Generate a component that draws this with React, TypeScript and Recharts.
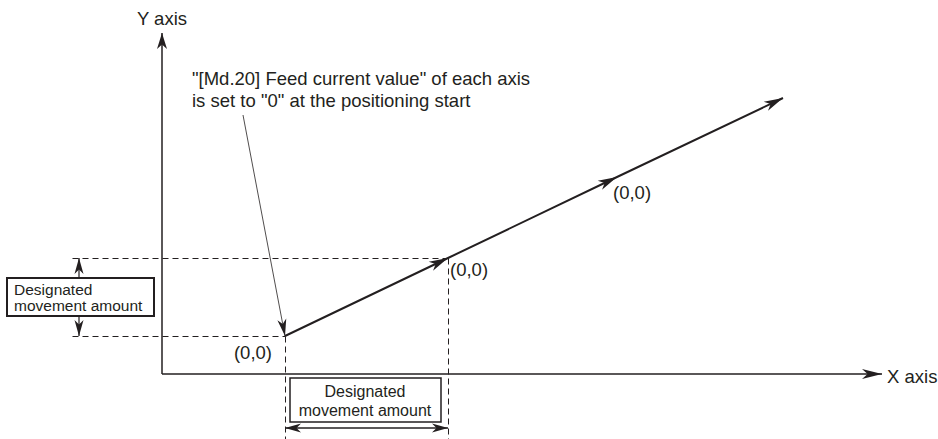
import React from "react";
import {
  ComposedChart,
  XAxis,
  YAxis,
  Line,
  ReferenceLine,
  ReferenceDot,
  ReferenceArea,
} from "recharts";

// Diagram coordinates: origin at the axes' intersection
const xDomain: [number, number] = [-162, 776];
const yDomain: [number, number] = [-65, 374];

const axisOrigin = { x: 0, y: 0 };
const xAxisEnd = { x: 720, y: 0 };
const yAxisEnd = { x: 0, y: 341 };

// movement path: start point, end of first movement, later positions
const pathPoints = [
  { x: 123, y: 38 },
  { x: 286, y: 116 },
  { x: 455, y: 197 },
  { x: 621, y: 276 },
];

// dashed guide lines
const dashedLines = [
  { from: { x: -90, y: 116 }, to: { x: 286, y: 116 } },
  { from: { x: -90, y: 38 }, to: { x: 123, y: 38 } },
  { from: { x: 123, y: 38 }, to: { x: 123, y: -65 } },
  { from: { x: 286, y: 116 }, to: { x: 286, y: -65 } },
];

// leader line of the annotation
const leader = { from: { x: 81, y: 259 }, to: { x: 123, y: 38 } };

// dimension arrows
const dimVerticalTop = { from: { x: -83, y: 96 }, to: { x: -83, y: 116 } };
const dimVerticalBottom = { from: { x: -83, y: 58 }, to: { x: -83, y: 38 } };
const dimHorizontal = { from: { x: 123, y: -54 }, to: { x: 286, y: -54 } };

// boxes
const leftBox = { x1: -155, x2: -8, y1: 58, y2: 96 };
const bottomBox = { x1: 128, x2: 279, y1: -48, y2: -4 };

const annotationLines = [
  '"[Md.20] Feed current value" of each axis',
  'is set to "0" at the positioning start',
];
const boxLines = ["Designated", "movement amount"];

const texts = [
  { x: 0, y: 356, text: "Y axis", anchor: "middle", size: 18.5 },
  { x: 725, y: -2, text: "X axis", anchor: "start", size: 18.5 },
  { x: 30, y: 296, text: annotationLines[0], anchor: "start", size: 18.5 },
  { x: 30, y: 274, text: annotationLines[1], anchor: "start", size: 18.5 },
  { x: 110, y: 22, text: "(0,0)", anchor: "end", size: 18.5 },
  { x: 288, y: 105, text: "(0,0)", anchor: "start", size: 18.5 },
  { x: 451, y: 182, text: "(0,0)", anchor: "start", size: 18.5 },
  { x: -148, y: 85, text: boxLines[0], anchor: "start", size: 15.5 },
  { x: -148, y: 69, text: boxLines[1], anchor: "start", size: 15.5 },
  { x: 203, y: -17, text: boxLines[0], anchor: "middle", size: 16 },
  { x: 203, y: -36, text: boxLines[1], anchor: "middle", size: 16 },
];

const INK = "#231f20";
const FONT = "'Liberation Sans', Arial, sans-serif";

function headPoints(x1: number, y1: number, x2: number, y2: number, len: number, half: number) {
  const dx = x2 - x1;
  const dy = y2 - y1;
  const n = Math.sqrt(dx * dx + dy * dy) || 1;
  const ux = dx / n;
  const uy = dy / n;
  const px = -uy;
  const py = ux;
  const bx = x2 - ux * len;
  const by = y2 - uy * len;
  const nx = x2 - ux * len * 0.72;
  const ny = y2 - uy * len * 0.72;
  return `${x2},${y2} ${bx + px * half},${by + py * half} ${nx},${ny} ${bx - px * half},${by - py * half}`;
}

type ArrowOpts = {
  width?: number;
  dash?: string;
  start?: boolean;
  end?: boolean;
  headOnly?: boolean;
  crisp?: boolean;
  len?: number;
  half?: number;
};

function makeArrow(opts: ArrowOpts) {
  const { width = 1, dash, start = false, end = false, headOnly = false, crisp = false, len = 16, half = 4.5 } = opts;
  return (props: any) => {
    let { x1, y1, x2, y2 } = props;
    if (crisp) {
      x1 = Math.round(x1) + 0.5;
      x2 = Math.round(x2) + 0.5;
      y1 = Math.round(y1) + 0.5;
      y2 = Math.round(y2) + 0.5;
    }
    return (
      <g>
        {!headOnly && (
          <line x1={x1} y1={y1} x2={x2} y2={y2} stroke={INK} strokeWidth={width} strokeDasharray={dash} />
        )}
        {end && <polygon points={headPoints(x1, y1, x2, y2, len, half)} fill={INK} />}
        {start && <polygon points={headPoints(x2, y2, x1, y1, len, half)} fill={INK} />}
      </g>
    );
  };
}

const textShape = (t: { text: string; anchor: string; size: number }) => (props: any) => (
  <text
    x={props.cx}
    y={props.cy}
    textAnchor={t.anchor as any}
    dominantBaseline="central"
    fontFamily={FONT}
    fontSize={t.size}
    fill={INK}
  >
    {t.text}
  </text>
);

export default function App() {
  return (
    <div style={{ position: "absolute", left: 0, top: 0, background: "#fff" }}>
      <ComposedChart width={938} height={439} margin={{ top: 0, right: 0, bottom: 0, left: 0 }}>
        <XAxis type="number" dataKey="x" domain={xDomain} allowDataOverflow hide />
        <YAxis type="number" dataKey="y" domain={yDomain} allowDataOverflow hide width={0} />

        {dashedLines.map((d, i) => (
          <ReferenceLine
            key={`d${i}`}
            segment={[d.from, d.to]}
            ifOverflow="visible"
            shape={makeArrow({ width: 1, dash: "6 4", crisp: true })}
          />
        ))}

        <ReferenceLine
          segment={[axisOrigin, xAxisEnd]}
          ifOverflow="visible"
          shape={makeArrow({ width: 1.5, end: true, len: 20, half: 5 })}
        />
        <ReferenceLine
          segment={[axisOrigin, yAxisEnd]}
          ifOverflow="visible"
          shape={makeArrow({ width: 1.5, end: true, len: 16, half: 5 })}
        />

        <Line
          data={pathPoints}
          dataKey="y"
          type="linear"
          stroke={INK}
          strokeWidth={2}
          dot={false}
          activeDot={false}
          isAnimationActive={false}
        />
        {pathPoints.slice(1).map((p, i) => (
          <ReferenceLine
            key={`h${i}`}
            segment={[pathPoints[0], p]}
            ifOverflow="visible"
            shape={makeArrow({ end: true, headOnly: true, len: 19, half: 5 })}
          />
        ))}

        <ReferenceLine
          segment={[leader.from, leader.to]}
          ifOverflow="visible"
          shape={makeArrow({ width: 0.8, end: true, len: 17, half: 4.5 })}
        />

        <ReferenceLine
          segment={[dimVerticalTop.from, dimVerticalTop.to]}
          ifOverflow="visible"
          shape={makeArrow({ width: 1.2, end: true, len: 16, half: 4.5 })}
        />
        <ReferenceLine
          segment={[dimVerticalBottom.from, dimVerticalBottom.to]}
          ifOverflow="visible"
          shape={makeArrow({ width: 1.2, end: true, len: 16, half: 4.5 })}
        />
        <ReferenceLine
          segment={[dimHorizontal.from, dimHorizontal.to]}
          ifOverflow="visible"
          shape={makeArrow({ width: 1.5, start: true, end: true, len: 16, half: 4.5 })}
        />

        <ReferenceArea
          x1={leftBox.x1}
          x2={leftBox.x2}
          y1={leftBox.y1}
          y2={leftBox.y2}
          fill="#ffffff"
          fillOpacity={1}
          stroke={INK}
          strokeWidth={2}
          ifOverflow="visible"
        />
        <ReferenceArea
          x1={bottomBox.x1}
          x2={bottomBox.x2}
          y1={bottomBox.y1}
          y2={bottomBox.y2}
          fill="#ffffff"
          fillOpacity={1}
          stroke={INK}
          strokeWidth={1.5}
          ifOverflow="visible"
        />

        {texts.map((t, i) => (
          <ReferenceDot key={`t${i}`} x={t.x} y={t.y} r={0} ifOverflow="visible" shape={textShape(t)} />
        ))}
      </ComposedChart>
    </div>
  );
}
